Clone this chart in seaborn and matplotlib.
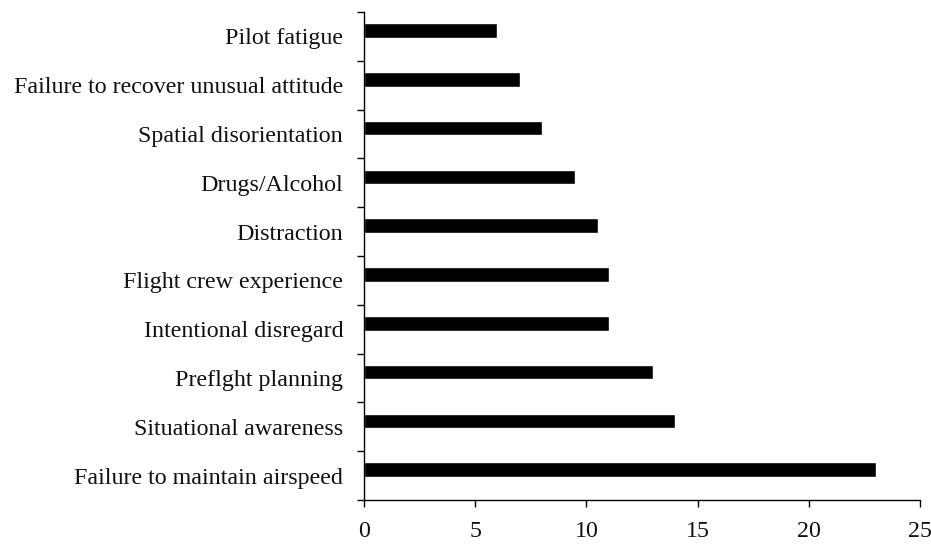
import matplotlib
matplotlib.use("Agg")
import matplotlib.pyplot as plt
import seaborn as sns
import pandas as pd
import numpy as np

categories = ["Pilot fatigue", "Failure to recover unusual attitude", "Spatial disorientation",
              "Drugs/Alcohol", "Distraction", "Flight crew experience", "Intentional disregard",
              "Preflght planning", "Situational awareness", "Failure to maintain airspeed"]
values = [6, 7, 8, 9.5, 10.5, 11, 11, 13, 14, 23]
xticks = [0, 5, 10, 15, 20, 25]

sns.set_style("white")
plt.rcParams['font.family'] = ['Liberation Serif', 'DejaVu Serif']

df = pd.DataFrame({"cat": categories, "val": values})
fig = plt.figure(figsize=(9.31, 5.44), dpi=100)
ax = fig.add_axes([364/931, 1-500/544, (920-364)/931, (500-12)/544])
sns.barplot(data=df, y="cat", x="val", orient="h", color="black", width=0.3, ax=ax,
            saturation=1)
for p in ax.patches:
    p.set_y(p.get_y() - 0.12)
ax.set_xlim(0, 25)
ax.set_ylim(len(categories)-0.5, -0.5)
ax.set_xticks(xticks)
ax.set_xticklabels([str(t) for t in xticks], fontsize=17.3, color="#111111")
ax.set_yticks(range(len(categories)))
ax.set_yticklabels(categories, fontsize=17.3, color="#111111")
ax.set_yticks(np.arange(-0.5, len(categories), 1), minor=True)
ax.tick_params(axis="y", which="major", left=False, length=0, pad=15)
ax.tick_params(axis="y", which="minor", left=True, length=5, width=1, color="black", direction="out")
ax.tick_params(axis="x", which="major", bottom=True, length=5, width=1, color="black", direction="out", pad=10)
ax.set_xlabel("")
ax.set_ylabel("")
for s in ["top", "right"]:
    ax.spines[s].set_visible(False)
for s in ["left", "bottom"]:
    ax.spines[s].set_color("black")
    ax.spines[s].set_linewidth(1)
fig.savefig("out.png", dpi=100)
